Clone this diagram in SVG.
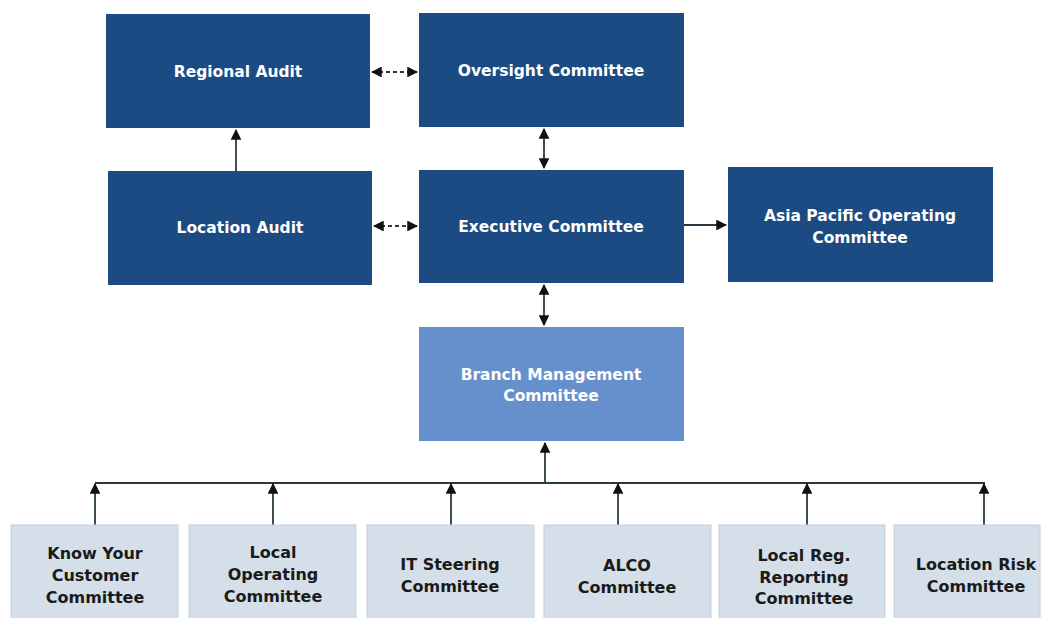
<svg xmlns="http://www.w3.org/2000/svg" width="1047" height="618" viewBox="0 0 1047 618">
<style>
.dk{fill:#1b4b82;}
.br{fill:#6690cb;}
.lt{fill:#d5dfe9;stroke:#c4d0dc;stroke-width:1;}
.tw{font-family:"DejaVu Sans",sans-serif;font-weight:bold;font-size:15.5px;fill:#ffffff;text-anchor:middle;}
.tb{font-family:"DejaVu Sans",sans-serif;font-weight:bold;font-size:16px;fill:#1a1a1a;text-anchor:middle;}
.ln{stroke:#2a3a44;stroke-width:1.8;fill:none;}
.ds{stroke:#2a3a44;stroke-width:1.8;fill:none;stroke-dasharray:4 3;}
</style>
<defs>
<marker id="ah" viewBox="0 0 10 10" refX="9" refY="5" markerWidth="6" markerHeight="6" orient="auto-start-reverse" markerUnits="strokeWidth">
<path d="M0,0 L10,5 L0,10 z" fill="#111"/>
</marker>
</defs>
<rect width="1047" height="618" fill="#ffffff"/>
<g id="connectors">
<line class="ds" x1="372" y1="72" x2="417" y2="72" marker-start="url(#ah)" marker-end="url(#ah)"/>
<line class="ds" x1="374" y1="226" x2="417" y2="226" marker-start="url(#ah)" marker-end="url(#ah)"/>
<line class="ln" x1="544" y1="129" x2="544" y2="168" marker-start="url(#ah)" marker-end="url(#ah)"/>
<line class="ln" x1="236" y1="171" x2="236" y2="130" marker-end="url(#ah)"/>
<line class="ln" x1="684" y1="225" x2="726" y2="225" marker-end="url(#ah)"/>
<line class="ln" x1="544" y1="285" x2="544" y2="325" marker-start="url(#ah)" marker-end="url(#ah)"/>
<line class="ln" x1="545" y1="483" x2="545" y2="443" marker-end="url(#ah)"/>
<line class="ln" x1="95" y1="483" x2="985" y2="483"/>
<line class="ln" x1="95" y1="525" x2="95" y2="484" marker-end="url(#ah)"/>
<line class="ln" x1="273" y1="525" x2="273" y2="484" marker-end="url(#ah)"/>
<line class="ln" x1="451" y1="525" x2="451" y2="484" marker-end="url(#ah)"/>
<line class="ln" x1="618" y1="525" x2="618" y2="484" marker-end="url(#ah)"/>
<line class="ln" x1="807" y1="525" x2="807" y2="484" marker-end="url(#ah)"/>
<line class="ln" x1="984" y1="525" x2="984" y2="484" marker-end="url(#ah)"/>
</g>
<g id="regional-audit"><rect class="dk" x="106" y="14" width="264" height="114"/><text class="tw" x="238" y="77">Regional Audit</text></g>
<g id="oversight-committee"><rect class="dk" x="419" y="13" width="265" height="114"/><text class="tw" x="551" y="76">Oversight Committee</text></g>
<g id="location-audit"><rect class="dk" x="108" y="171" width="264" height="114"/><text class="tw" x="240" y="233">Location Audit</text></g>
<g id="executive-committee"><rect class="dk" x="419" y="170" width="265" height="113"/><text class="tw" x="551" y="232">Executive Committee</text></g>
<g id="asia-pacific"><rect class="dk" x="728" y="167" width="265" height="115"/><text class="tw" x="860" y="221">Asia Pacific Operating</text><text class="tw" x="860" y="243">Committee</text></g>
<g id="branch-management"><rect class="br" x="419" y="327" width="265" height="114"/><text class="tw" x="551" y="380">Branch Management</text><text class="tw" x="551" y="401">Committee</text></g>
<g id="kyc"><rect class="lt" x="11" y="525" width="167" height="100"/><text class="tb" x="95" y="559">Know Your</text><text class="tb" x="95" y="581">Customer</text><text class="tb" x="95" y="603">Committee</text></g>
<g id="local-operating"><rect class="lt" x="189" y="525" width="167" height="100"/><text class="tb" x="273" y="558">Local</text><text class="tb" x="273" y="580">Operating</text><text class="tb" x="273" y="602">Committee</text></g>
<g id="it-steering"><rect class="lt" x="367" y="525" width="167" height="100"/><text class="tb" x="450" y="570">IT Steering</text><text class="tb" x="450" y="592">Committee</text></g>
<g id="alco"><rect class="lt" x="544" y="525" width="167" height="100"/><text class="tb" x="627" y="571">ALCO</text><text class="tb" x="627" y="593">Committee</text></g>
<g id="local-reg"><rect class="lt" x="719" y="525" width="166" height="100"/><text class="tb" x="804" y="561">Local Reg.</text><text class="tb" x="804" y="583">Reporting</text><text class="tb" x="804" y="604">Committee</text></g>
<g id="location-risk"><rect class="lt" x="894" y="525" width="146" height="100"/><text class="tb" x="976" y="570">Location Risk</text><text class="tb" x="976" y="592">Committee</text></g>
</svg>
